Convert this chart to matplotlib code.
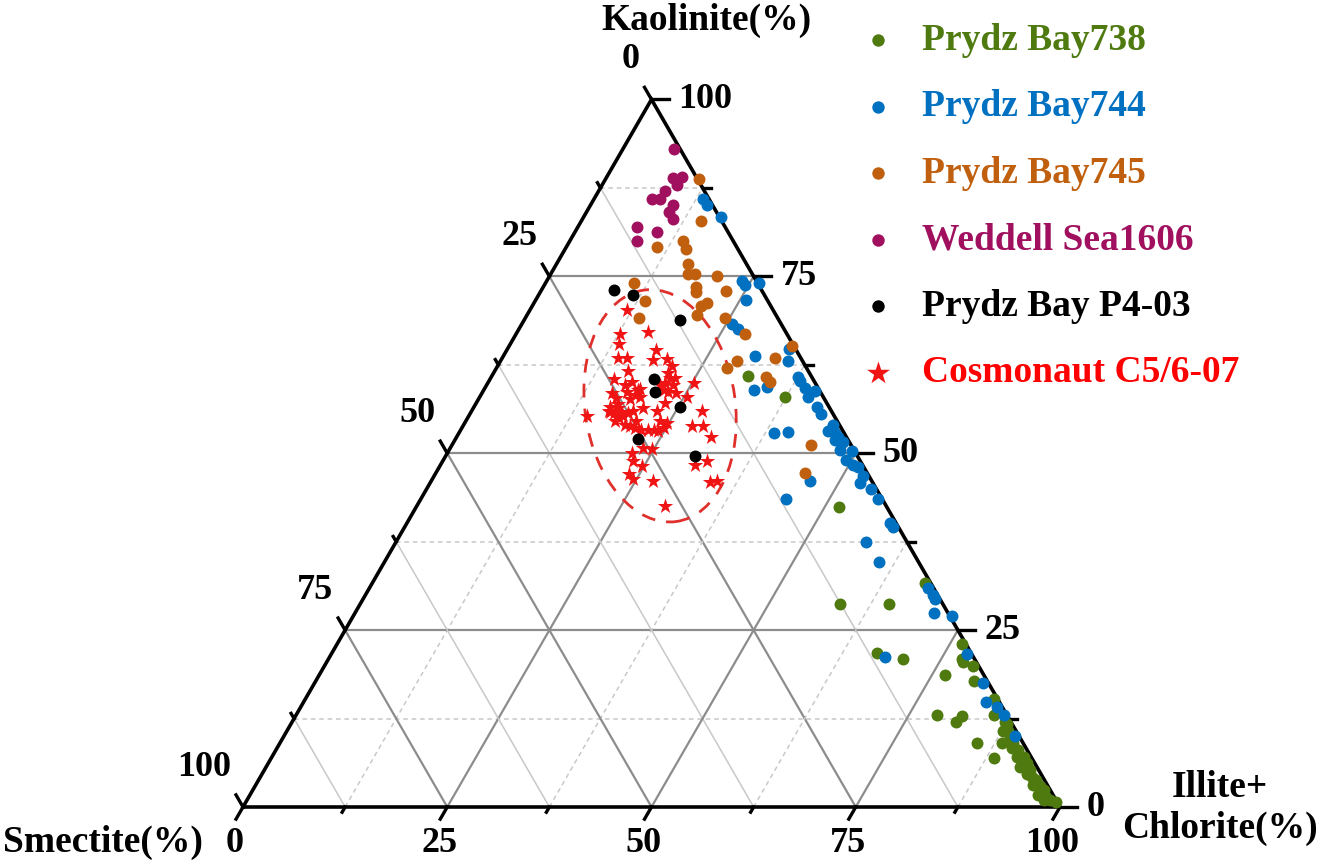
import numpy as np
import matplotlib.pyplot as plt
from matplotlib.patches import Ellipse

plt.rcParams['font.family'] = ['Liberation Serif', 'DejaVu Serif']
plt.rcParams['font.weight'] = 'bold'

# ---- data: Kaolinite (%) and Illite+Chlorite (%) ; Smectite = rest ----
pb738_kao = [60.9, 58.0, 42.4, 31.6, 28.7, 28.7, 21.7, 20.9, 23.1, 20.9, 20.5, 19.9,
             18.7, 17.8, 15.2, 13.0, 13.0, 12.8, 12.0, 12.0, 10.8, 9.0, 9.0, 6.9,
             11.8, 9.9, 9.0, 8.0, 7.1, 6.2, 5.2, 4.3, 3.8, 2.9, 2.4, 1.5, 1.0, 1.0,
             0.7, 5.7, 4.7, 7.1, 8.3, 6.6, 10.8, 3.1, 1.7]
pb738_ill = [31.4, 37.4, 51.8, 67.7, 58.7, 64.7, 66.7, 70.3, 76.4, 77.5, 77.9, 79.4,
             76.6, 80.6, 84.3, 85.4, 78.4, 81.6, 81.3, 87.3, 87.6, 85.4, 88.4, 88.5,
             87.6, 88.9, 89.8, 90.9, 92.0, 92.8, 93.7, 94.4, 95.2, 96.1, 96.8, 97.4, 97.5, 98.3,
             99.2, 92.3, 93.6, 91.2, 90.0, 92.0, 88.2, 95.1, 96.5]

pb744_kao = [86.0, 85.1, 83.4, 74.3, 73.8, 74.1, 71.7, 68.3, 67.6, 63.7, 63.1, 64.8,
             60.8, 60.2, 59.2, 58.8, 58.0, 58.9, 59.3, 56.5, 55.5, 54.0, 53.1, 52.9,
             52.3, 51.6, 51.9, 50.5, 50.3, 49.1, 48.4, 48.0, 46.8, 45.8, 45.0, 43.5,
             40.2, 39.6, 37.4, 52.9, 53.0, 46.1, 43.5, 34.6, 31.0, 30.0, 29.4, 27.4,
             27.0, 21.2, 21.6, 17.5, 14.8, 14.1, 13.0, 10.0]
pb744_ill = [13.3, 14.2, 16.8, 23.9, 24.6, 26.1, 25.7, 25.7, 26.8, 30.8, 35.1, 34.4,
             37.5, 38.1, 39.2, 40.6, 40.2, 33.1, 34.5, 42.0, 43.0, 45.2, 45.1, 46.0,
             46.7, 47.7, 46.5, 47.8, 49.4, 49.3, 50.5, 51.3, 52.5, 52.6, 54.4, 56.0,
             59.1, 59.7, 57.5, 38.5, 40.2, 46.3, 44.7, 60.6, 68.3, 69.5, 70.0, 70.9,
             73.3, 68.0, 77.8, 81.8, 83.6, 85.2, 86.6, 89.5]

pb745_kao = [88.7, 82.8, 79.1, 80.0, 78.8, 76.7, 75.3, 75.3, 75.0, 74.0, 73.5, 72.8,
             72.9, 71.5, 71.3, 70.8, 69.5, 69.1, 69.1, 66.9, 65.1, 63.1, 63.4, 62.0,
             60.8, 60.0, 51.2, 47.2]
pb745_ill = [11.5, 14.6, 11.1, 13.8, 14.8, 16.1, 16.8, 17.7, 20.5, 10.9, 18.7, 19.0,
             22.7, 13.5, 21.1, 20.7, 20.8, 13.9, 24.5, 28.0, 34.7, 28.9, 33.4, 28.2,
             33.6, 34.5, 43.9, 45.2]

ws1606_kao = [93.0, 88.9, 89.0, 87.9, 87.1, 86.0, 86.0, 85.1, 84.1, 83.1, 82.0, 81.2, 80.0]
ws1606_ill = [6.2, 8.2, 9.2, 9.2, 8.1, 8.0, 7.1, 10.1, 10.1, 11.1, 7.2, 10.1, 8.2]

p403_kao = [73.1, 72.3, 68.9, 60.5, 58.7, 56.6, 52.0, 49.6]
p403_ill = [8.9, 11.6, 19.0, 20.0, 21.1, 25.2, 22.4, 30.5]

c5607_kao = [70.2, 67.2, 66.8, 65.5, 63.5, 63.5, 64.6, 63.2, 63.3, 61.6, 60.0, 59.6,
             60.5, 61.3, 60.6, 59.9, 59.7, 59.0, 58.7, 59.7, 59.9, 59.1, 58.3, 58.7,
             57.9, 58.5, 57.8, 58.5, 58.0, 57.1, 56.4, 55.9, 56.6, 56.4, 55.7, 55.0,
             55.2, 54.5, 54.0, 53.8, 55.5, 55.3, 55.9, 54.5, 53.3, 53.6, 54.5, 54.3,
             53.6, 53.9, 53.8, 53.3, 53.1, 53.3, 52.3, 50.7, 50.6, 50.0, 48.9, 48.2,
             48.4, 48.9, 47.1, 46.3, 46.1, 45.9, 46.1, 42.6, 55.9, 55.7, 55.9, 55.8,
             56.9, 57.6, 55.8, 62.3, 59.0, 60.7]
c5607_ill = [11.9, 16.0, 12.7, 13.3, 14.1, 15.2, 18.2, 18.6, 20.2, 16.3, 17.6, 17.0,
             15.2, 21.4, 22.0, 21.7, 22.8, 22.0, 22.7, 21.2, 25.2, 19.0, 18.8, 17.6,
             19.6, 15.9, 16.8, 23.8, 25.3, 23.1, 20.8, 22.7, 16.6, 17.7, 17.5, 18.5,
             18.9, 18.3, 19.7, 20.5, 18.6, 14.4, 28.2, 20.9, 22.1, 21.2, 23.8, 24.7,
             24.7, 28.0, 29.4, 23.6, 24.3, 22.9, 31.1, 23.6, 24.7, 22.6, 23.3, 24.7,
             31.1, 32.3, 23.7, 24.6, 27.1, 34.2, 35.0, 30.3, 16.8, 19.3, 19.8, 18.2,
             17.5, 18.6, 17.0, 21.4, 18.9, 22.5]

tick_vals = [0, 25, 50, 75, 100]

H = np.sqrt(3) / 2


def tern(ill, kao):
    """Illite+Chlorite / Kaolinite percentages -> cartesian (Smectite at origin)"""
    ill = np.asarray(ill, float) / 100
    kao = np.asarray(kao, float) / 100
    return ill + kao / 2, kao * H


PX = 817.0  # pixels per unit side

fig = plt.figure(figsize=(13.2, 8.66), dpi=100)
ax = fig.add_axes([0, 0, 1, 1])
ax.set_xlim(-243 / PX, (1320 - 243) / PX)
ax.set_ylim(-59 / PX, 807 / PX)
ax.axis('off')

# grid lines
for v in np.arange(12.5, 100, 12.5):
    major = v % 25 == 0
    gcol = '#8c8c8c' if major else '#c8c8c8'
    glw = 1.6 if major else 1.1
    ls_dash = '-' if major else (0, (3, 2.5))
    # constant kaolinite
    x, y = tern([0, 100 - v], [v, v])
    ax.plot(x, y, color=gcol, lw=glw, ls=ls_dash, zorder=1)
    # constant illite+chlorite
    x, y = tern([v, v], [0, 100 - v])
    ax.plot(x, y, color=gcol, lw=glw, ls=ls_dash, zorder=1)
    # constant smectite
    x, y = tern([0, 100 - v], [100 - v, 0])
    ax.plot(x, y, color=gcol, lw=glw, ls='-', zorder=1)

# outline
x, y = tern([0, 100, 0, 0], [0, 0, 100, 0])
ax.plot(x, y, color='black', lw=2.6, zorder=2, solid_joinstyle='miter')

# ticks and tick labels
fs_tick = 26
for v in np.arange(0, 100.1, 12.5):
    major = v % 25 == 0
    L = (17 if major else 8) / PX
    Lb = (14 if major else 6) / PX
    # bottom axis (Illite+Chlorite)
    bx, by = tern(v, 0)
    ax.plot([bx, bx - 0.5 * Lb], [by, by - H * Lb], color='black', lw=2.4, zorder=2)
    # left axis (Smectite)
    lx, ly = tern(0, 100 - v)
    ax.plot([lx, lx - 0.5 * Lb], [ly, ly + H * Lb], color='black', lw=2.4, zorder=2)
    # right axis (Kaolinite)
    rx, ry = tern(100 - v, v)
    ax.plot([rx, rx + L], [ry, ry], color='black', lw=2.4, zorder=2)

for v in tick_vals:
    bx, by = tern(v, 0)
    ax.text(bx - 8 / PX, by - 37 / PX, str(v), ha='center', va='center',
            fontsize=fs_tick, fontweight='bold')
    lx, ly = tern(0, 100 - v)
    ax.text(lx - 12 / PX, ly + 40 / PX, str(v), ha='right', va='center',
            fontsize=fs_tick, fontweight='bold')
    rx, ry = tern(100 - v, v)
    ax.text(rx + 27 / PX, ry, str(v), ha='left', va='center',
            fontsize=fs_tick, fontweight='bold')

# axis titles
ax.text((706 - 243) / PX, (807 - 20) / PX, 'Kaolinite(%)', ha='center', va='center',
        fontsize=27, fontweight='bold')
ax.text((103 - 243) / PX, (807 - 842) / PX, 'Smectite(%)', ha='center', va='center',
        fontsize=27, fontweight='bold')
ax.text((1220 - 243) / PX, (807 - 808) / PX, 'Illite+\nChlorite(%)', ha='center',
        va='center', fontsize=27, fontweight='bold', linespacing=1.25)

# dashed ellipse around the Cosmonaut cluster
ex, ey = tern(22.7, 56.7)
ax.add_patch(Ellipse((float(ex), float(ey)), 0.184, 0.286, angle=8, fill=False,
                     ec='#e0302c', lw=2.0, ls=(0, (5, 4)), zorder=3))

# data
dot = 74
series = [
    (pb738_ill, pb738_kao, '#4e7a10', 'o', dot, 'Prydz Bay738', 4),
    (pb744_ill, pb744_kao, '#0070c0', 'o', dot, 'Prydz Bay744', 5),
    (pb745_ill, pb745_kao, '#c0600f', 'o', dot, 'Prydz Bay745', 6),
    (ws1606_ill, ws1606_kao, '#a0105e', 'o', dot, 'Weddell Sea1606', 7),
    (p403_ill, p403_kao, '#000000', 'o', dot, 'Prydz Bay P4-03', 9),
    (c5607_ill, c5607_kao, '#f01414', '*', 135, 'Cosmonaut C5/6-07', 8),
]
handles = []
for ill, kao, col, mk, s, lab, z in series:
    x, y = tern(ill, kao)
    h = ax.scatter(x, y, s=s, c=col, marker=mk, linewidths=0, label=lab, zorder=z)
    handles.append(h)

text_cols = ['#4e7a10', '#0070c0', '#c0600f', '#a0105e', '#000000', '#ff0000']
leg = ax.legend(handles=handles, loc='upper left', bbox_to_anchor=(859 / 1320, 1 - 23 / 866),
                frameon=False, fontsize=27, handlelength=1.0, handletextpad=0.67,
                labelspacing=0.84, borderpad=0, borderaxespad=0, scatterpoints=1,
                labelcolor=text_cols)
for hnd in leg.legend_handles[:5]:
    hnd.set_sizes([80])
leg.legend_handles[5].set_sizes([300])

fig.savefig('out.png', dpi=100)
